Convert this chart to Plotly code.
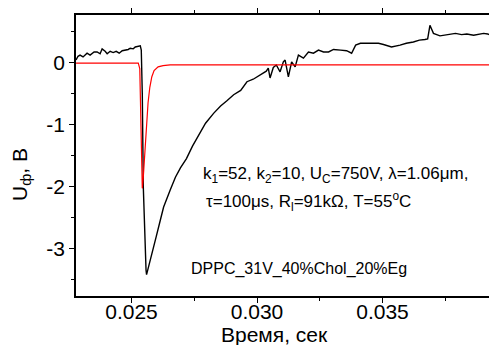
import plotly.graph_objects as go

# ---- data ----
black_t = [0.02279, 0.02287, 0.02295, 0.02307, 0.02323, 0.02335, 0.02351, 0.02363,
           0.02375, 0.02383, 0.02395, 0.02403, 0.02415, 0.02427, 0.02439, 0.02451,
           0.02463, 0.02475, 0.02487, 0.02495, 0.02507, 0.02515, 0.02527, 0.02535,
           0.02539, 0.02543, 0.02547, 0.02553, 0.02558, 0.02560, 0.02567, 0.02581,
           0.02599, 0.02615, 0.02628, 0.02655, 0.02675, 0.02695, 0.02719, 0.02743,
           0.02767, 0.02795, 0.02827, 0.02855, 0.02879, 0.02907, 0.02935, 0.02960,
           0.02985, 0.03013, 0.03037, 0.03045, 0.03052, 0.03065, 0.03077, 0.03092,
           0.03105, 0.03112, 0.03125, 0.03138, 0.03152, 0.03165, 0.03185, 0.03205,
           0.03225, 0.03245, 0.03265, 0.03285, 0.03305, 0.03333, 0.03357, 0.03377,
           0.03393, 0.03412, 0.03433, 0.03464, 0.03484, 0.03504, 0.03536, 0.03570,
           0.03595, 0.03623, 0.03647, 0.03669, 0.03674, 0.03680, 0.03689, 0.03703,
           0.03729, 0.03747, 0.03769, 0.03791, 0.03815, 0.03836, 0.03863, 0.03887,
           0.03903, 0.03919, 0.03931]
black_v = [0.04, 0.10, 0.12, 0.09, 0.15, 0.12, 0.17, 0.17,
           0.14, 0.22, 0.18, 0.14, 0.18, 0.16, 0.18, 0.15,
           0.19, 0.20, 0.21, 0.23, 0.22, 0.25, 0.26, 0.27,
           0.20, -0.50, -2.00, -2.90, -3.35, -3.42, -3.30, -3.07,
           -2.80, -2.54, -2.33, -2.05, -1.85, -1.70, -1.55, -1.35,
           -1.17, -0.98, -0.82, -0.70, -0.62, -0.52, -0.45, -0.31,
           -0.27, -0.20, -0.14, -0.09, -0.25, -0.08, -0.04, -0.15,
           0.01, 0.04, -0.23, 0.01, -0.07, 0.12, 0.07, 0.17,
           0.15, 0.20, 0.17, 0.17, 0.21, 0.20, 0.19, 0.15,
           0.28, 0.31, 0.31, 0.31, 0.31, 0.29, 0.25, 0.28,
           0.31, 0.33, 0.36, 0.37, 0.38, 0.38, 0.60, 0.47,
           0.43, 0.44, 0.46, 0.47, 0.45, 0.46, 0.44, 0.46,
           0.47, 0.46, 0.44]

red_t = [0.02279, 0.02375, 0.02455, 0.02527, 0.02533, 0.02537, 0.02541, 0.02543,
         0.02547, 0.02553, 0.02559, 0.02566, 0.02573, 0.02581, 0.02590, 0.02606,
         0.02626, 0.02654, 0.02774, 0.02973, 0.03173, 0.03373, 0.03573, 0.03956]
red_v = [-0.01, -0.01, -0.01, -0.01, -0.10, -0.80, -1.70, -2.03,
         -1.85, -1.45, -1.00, -0.65, -0.40, -0.23, -0.13, -0.07,
         -0.05, -0.04, -0.04, -0.04, -0.04, -0.04, -0.04, -0.04]

x_tickvals = [0.025, 0.030, 0.035]
x_ticktext = ["0.025", "0.030", "0.035"]
y_tickvals = [0, -1, -2, -3]
y_ticktext = ["0", "-1", "-2", "-3"]

FONT = "Arial, Liberation Sans, sans-serif"
OFF = 8  # default page body margin
W, H = 497 - OFF, 345 - OFF
# plot-area edges in window pixels
L, R, T, B = 76, 497, 15, 296


def px(x):
    return (x - L) / (R - L)


def py(y):
    return (B - y) / (B - T)


fig = go.Figure()
fig.add_trace(go.Scatter(x=black_t, y=black_v, mode="lines",
                         line=dict(color="black", width=1.4), showlegend=False))
fig.add_trace(go.Scatter(x=red_t, y=red_v, mode="lines",
                         line=dict(color="#ff0000", width=1.2), showlegend=False))

axis_common = dict(showgrid=False, zeroline=False, showline=True, linecolor="black",
                   linewidth=1.5, ticks="outside", tickcolor="black", tickwidth=1.2,
                   ticklen=5, automargin=False,
                   tickfont=dict(family=FONT, size=21, color="black"))

fig.update_xaxes(range=[0.022789, 0.039562], tickvals=x_tickvals, ticktext=x_ticktext,
                 mirror="ticks", ticklabelstandoff=-9,
                 minor=dict(tickvals=[0.0225, 0.0275, 0.0325, 0.0375], ticklen=3,
                            ticks="outside", tickcolor="black", tickwidth=1.2),
                 **axis_common)
fig.update_yaxes(range=[-3.766, 0.766], tickvals=y_tickvals, ticktext=y_ticktext,
                 mirror=False,
                 minor=dict(tickvals=[0.5, -0.5, -1.5, -2.5, -3.5], ticklen=3,
                            ticks="outside", tickcolor="black", tickwidth=1.2),
                 **axis_common)

ann_font = dict(family=FONT, size=17, color="black")
annotations = [
    dict(x=px(201), y=py(175), xref="paper", yref="paper", xanchor="left", yanchor="middle",
         text="k<sub>1</sub>=52, k<sub>2</sub>=10, U<sub>C</sub>=750V, λ=1.06μm,",
         showarrow=False, font=ann_font),
    dict(x=px(204), y=py(201), xref="paper", yref="paper", xanchor="left", yanchor="middle",
         text="τ=100μs, R<sub>l</sub>=91kΩ, T=55<sup>o</sup>C",
         showarrow=False, font=ann_font),
    dict(x=px(189), y=py(269), xref="paper", yref="paper", xanchor="left", yanchor="middle",
         text="DPPC_31V_40%Chol_20%Eg", showarrow=False,
         font=dict(family=FONT, size=16, color="black")),
    dict(x=px(274), y=py(334), xref="paper", yref="paper", xanchor="center", yanchor="middle",
         text="Время, сек", showarrow=False,
         font=dict(family=FONT, size=21, color="black")),
    dict(x=px(21), y=py(175), xref="paper", yref="paper", xanchor="center", yanchor="middle",
         text="U<sub>ф</sub>, B", textangle=-90, showarrow=False,
         font=dict(family=FONT, size=21, color="black")),
]

fig.update_layout(width=W, height=H,
                  margin=dict(l=L - OFF, r=0, t=T - OFF, b=345 - B, pad=0),
                  paper_bgcolor="white", plot_bgcolor="white",
                  annotations=annotations, showlegend=False)

fig.write_html("out.html")
